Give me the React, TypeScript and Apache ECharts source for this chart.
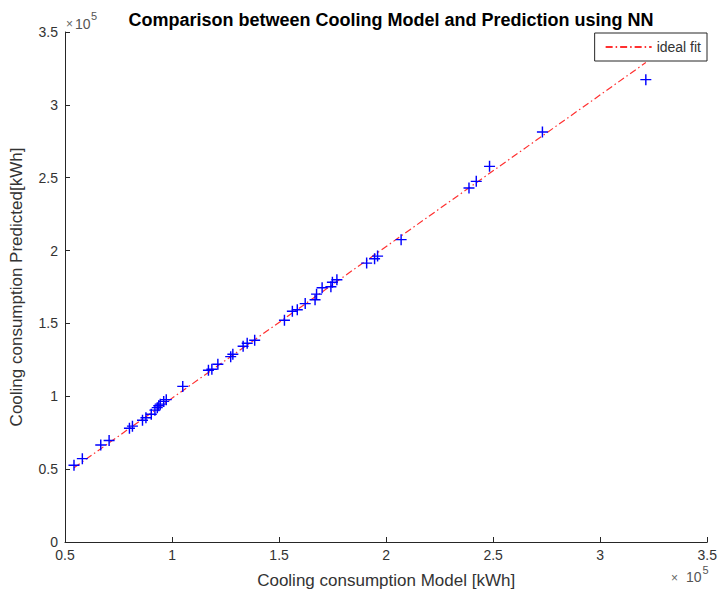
import React, { useEffect, useRef } from "react";
import * as echarts from "echarts";

// Cooling consumption from the model (x) and predicted by NN (y), in kWh
const modelValues: number[] = [
  54200, 58100, 66700, 70600, 80100, 81500, 86200, 87800, 90300, 92000,
  93100, 93800, 94500, 96100, 97300, 105000, 117000, 118600, 121400, 127400,
  128400, 133200, 135100, 138600, 152500, 156200, 158500, 162200, 166800, 167500,
  170100, 174200, 174900, 177000, 190900, 194600, 196000, 207000, 238700, 242100,
  248300, 273000, 321300,
];
const predictedValues: number[] = [
  52700, 57200, 66600, 69600, 78100, 79500, 83600, 85300, 87700, 90500,
  92200, 93500, 94600, 96500, 97700, 106800, 117900, 118600, 122000, 127200,
  128900, 134400, 136400, 138500, 152200, 158400, 159400, 163600, 166300, 170100,
  174500, 175200, 178300, 180000, 191400, 194400, 196200, 207500, 243000, 247500,
  257800, 281400, 317300,
];
// ideal fit line end points
const fitX: number[] = [54200, 321300];
const fitY: number[] = [51000, 329000];

const xTickLabels: string[] = ["0.5", "1", "1.5", "2", "2.5", "3", "3.5"];
const yTickLabels: string[] = ["0", "0.5", "1", "1.5", "2", "2.5", "3", "3.5"];

const FONT = "Liberation Sans, Arial, Helvetica, sans-serif";
const AXIS_COLOR = "#262626";
const TEXT_COLOR = "#333333";

export default function App() {
  const ref = useRef<HTMLDivElement>(null);
  useEffect(() => {
    if (!ref.current) return;
    const chart = echarts.init(ref.current, undefined, { renderer: "svg" });
    const scatterData = modelValues.map((v, i) => [v, predictedValues[i]]);
    const fitData = fitX.map((v, i) => [v, fitY[i]]);
    const plus = "path://M4.35,0H5.65V4.35H10V5.65H5.65V10H4.35V5.65H0V4.35H4.35Z";
    chart.setOption({
      animation: false,
      backgroundColor: "#ffffff",
      textStyle: { fontFamily: FONT },
      title: {
        text: "Comparison between Cooling Model and Prediction using NN",
        left: 386,
        textAlign: "center",
        top: 6,
        textStyle: { fontFamily: FONT, fontSize: 18, fontWeight: "bold", color: "#000" },
      },
      legend: {
        data: ["ideal fit"],
        right: 13,
        top: 33,
        orient: "vertical",
        padding: [7, 6, 7, 10],
        itemWidth: 46,
        itemHeight: 14,
        itemStyle: { opacity: 0 },
        borderColor: AXIS_COLOR,
        borderWidth: 1,
        backgroundColor: "#fff",
        textStyle: { fontFamily: FONT, fontSize: 14, color: TEXT_COLOR },
      },
      grid: { left: 63, right: 10, top: 32, bottom: 53 },
      xAxis: {
        type: "value",
        min: 50000,
        max: 350000,
        interval: 50000,
        name: "Cooling consumption Model [kWh]",
        nameLocation: "middle",
        nameGap: 30,
        nameTextStyle: { fontFamily: FONT, fontSize: 17, color: TEXT_COLOR },
        axisLine: { show: true, onZero: false, lineStyle: { color: AXIS_COLOR, width: 1 } },
        axisTick: { show: true, inside: true, length: 5, lineStyle: { color: AXIS_COLOR } },
        axisLabel: {
          fontFamily: FONT,
          fontSize: 14,
          color: TEXT_COLOR,
          margin: 6,
          formatter: (v: number) => xTickLabels[Math.round((v - 50000) / 50000)] ?? "",
        },
        splitLine: { show: false },
      },
      yAxis: {
        type: "value",
        min: 0,
        max: 350000,
        interval: 50000,
        name: "Cooling consumption Predicted[kWh]",
        nameLocation: "middle",
        nameGap: 40,
        nameTextStyle: { fontFamily: FONT, fontSize: 17, color: TEXT_COLOR },
        axisLine: { show: true, onZero: false, lineStyle: { color: AXIS_COLOR, width: 1 } },
        axisTick: { show: true, inside: true, length: 5, lineStyle: { color: AXIS_COLOR } },
        axisLabel: {
          fontFamily: FONT,
          fontSize: 14,
          color: TEXT_COLOR,
          margin: 7,
          formatter: (v: number) => yTickLabels[Math.round(v / 50000)] ?? "",
        },
        splitLine: { show: false },
      },
      graphic: [
        { type: "text", left: 66, top: 18, style: { text: "×", font: `12px ${FONT}`, fill: "#666" } },
        { type: "text", left: 75, top: 16.5, style: { text: "10", font: `14px ${FONT}`, fill: "#555" } },
        { type: "text", left: 91, top: 10.5, style: { text: "5", font: `11px ${FONT}`, fill: "#555" } },
        { type: "text", left: 671, top: 571.5, style: { text: "×", font: `12px ${FONT}`, fill: "#666" } },
        { type: "text", left: 686, top: 570, style: { text: "10", font: `14px ${FONT}`, fill: "#555" } },
        { type: "text", left: 702.5, top: 564, style: { text: "5", font: `11px ${FONT}`, fill: "#555" } },
      ],
      series: [
        {
          name: "ideal fit",
          type: "line",
          data: fitData,
          symbol: "none",
          showSymbol: false,
          lineStyle: { color: "#ff3030", width: 1.2, type: [7, 3, 1.5, 3] },
          z: 2,
        },
        {
          name: "data",
          type: "scatter",
          data: scatterData,
          symbol: plus,
          symbolSize: 11,
          itemStyle: { color: "#0000ff", opacity: 1 },
          z: 3,
        },
      ],
    });
    return () => chart.dispose();
  }, []);
  return (
    <div
      ref={ref}
      style={{ position: "absolute", left: 0, top: 0, width: 720, height: 595, background: "#fff" }}
    />
  );
}
